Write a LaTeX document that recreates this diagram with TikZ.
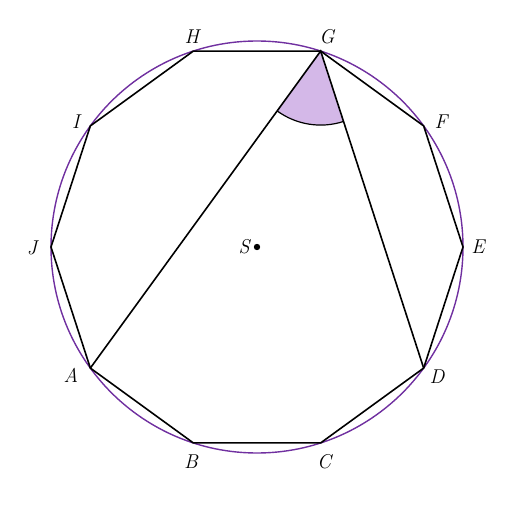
\documentclass[tikz,border=0pt]{standalone}
\usepackage{fontspec}
\usepackage{tikz}
\usetikzlibrary{calc}
\definecolor{circ}{HTML}{7030A0}
\definecolor{angfill}{HTML}{D4B8E8}
\begin{document}
\begin{tikzpicture}[x=1pt,y=1pt,
  edge/.style={line width=1.6pt,black,line join=miter},
  lbl/.style={font=\fontsize{20}{24}\selectfont\itshape,inner sep=0pt}]
\useasboundingbox (0,0) rectangle (522,515);
\coordinate (S) at (257,268);
\foreach \n/\a in {E/0,F/36,G/72,H/108,I/144,J/180,A/216,B/252,C/288,D/324}{
  \coordinate (\n) at ($(S)+(\a:206)$);
}
% angle sector
\fill[angfill] (G) -- ++(234:74) arc[start angle=234,end angle=288,radius=74] -- cycle;
\draw[line width=1.2pt] ($(G)+(234:74)$) arc[start angle=234,end angle=288,radius=74];
\draw[circ,line width=1.4pt] (S) circle[radius=206];
\draw[edge] (A)--(B)--(C)--(D)--(E)--(F)--(G)--(H)--(I)--(J)--cycle;
\draw[edge] (A)--(G)--(D);
\fill (S) circle[radius=3.2];
\node[lbl] (lH) at (192,478) {H};
\node[lbl] (lG) at (327,478) {G};
\node[lbl] (lF) at (441,393) {F};
\node[lbl] (lE) at (478,268) {E};
\node[lbl] (lD) at (437,138) {D};
\node[lbl] (lC) at (324,53) {C};
\node[lbl] (lB) at (191,53) {B};
\node[lbl] (lA) at (71,140) {A};
\node[lbl] (lJ) at (32,267) {J};
\node[lbl] (lI) at (76,393) {I};
\node[lbl] (lS) at (244,268) {S};
\end{tikzpicture}
\end{document}
